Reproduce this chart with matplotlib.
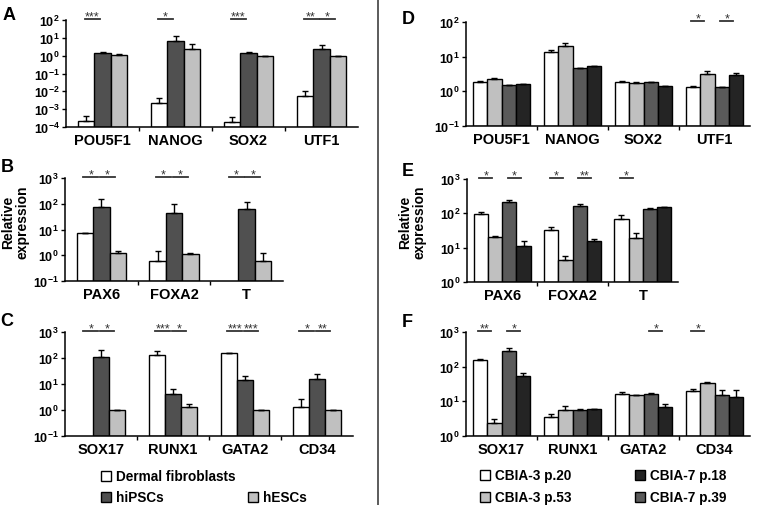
import numpy as np
import matplotlib
matplotlib.use('Agg')
import matplotlib.pyplot as plt
from matplotlib.patches import Rectangle
from matplotlib.ticker import NullLocator, FixedLocator

plt.rcParams['font.family'] = ['Liberation Sans', 'DejaVu Sans']
plt.rcParams['font.weight'] = 'bold'
plt.rcParams['mathtext.fontset'] = 'custom'
plt.rcParams['mathtext.rm'] = 'Liberation Sans'
plt.rcParams['mathtext.bf'] = 'Liberation Sans:bold'

# ---- data: left column (fibroblasts / hiPSCs / hESCs) ----
genes_a = ['POU5F1', 'NANOG', 'SOX2', 'UTF1']
fib_a = [2.2e-4, 2.2e-3, 1.9e-4, 5.5e-3]
fib_a_err = [1.9e-4, 2.1e-3, 1.7e-4, 5.5e-3]
ips_a = [1.5, 7.0, 1.5, 2.5]
ips_a_err = [0.1, 5.6, 0.1, 1.5]
es_a = [1.1, 2.3, 1.0, 1.0]
es_a_err = [0.2, 2.0, 0.0, 0.0]

genes_b = ['PAX6', 'FOXA2', 'T']
fib_b = [7.2, 0.62, np.nan]
fib_b_err = [0.2, 0.88, np.nan]
ips_b = [76, 45, 60]
ips_b_err = [71, 55, 55]
es_b = [1.2, 1.12, 0.6]
es_b_err = [0.25, 0.06, 0.66]

genes_c = ['SOX17', 'RUNX1', 'GATA2', 'CD34']
fib_c = [np.nan, 132, 150, 1.25]
fib_c_err = [np.nan, 46, 0, 1.35]
ips_c = [110, 4.1, 14, 15.5]
ips_c_err = [90, 2.2, 7, 9.5]
es_c = [1.0, 1.3, 1.0, 1.0]
es_c_err = [0, 0.47, 0, 0.02]

# ---- data: right column (CBIA lines) ----
p20_d = [1.86, 13.9, 1.86, 1.33]
p20_d_err = [0.14, 1.7, 0.09, 0.07]
p53_d = [2.27, 20.4, 1.78, 3.16]
p53_d_err = [0.23, 4.3, 0.07, 0.7]
p39_d = [1.49, 4.7, 1.82, 1.3]
p39_d_err = [0.05, 0.1, 0.03, 0.02]
p18_d = [1.59, 5.4, 1.39, 3.0]
p18_d_err = [0, 0.1, 0, 0.3]

p20_e = [95, 33.5, 69]
p20_e_err = [17, 5.5, 20]
p53_e = [21, 4.4, 18.5]
p53_e_err = [0.5, 1.4, 8.2]
p39_e = [213, 168, 134]
p39_e_err = [37, 22, 6]
p18_e = [11.5, 15.8, 148]
p18_e_err = [3.9, 1.8, 10]

p20_f = [152, 3.65, 16.2, 20.1]
p20_f_err = [14, 0.6, 2.3, 2.4]
p53_f = [2.35, 5.7, 15.5, 33.4]
p53_f_err = [0.75, 1.5, 0.2, 3.0]
p39_f = [275, 5.7, 16.2, 14.8]
p39_f_err = [73, 0.2, 1.1, 6.2]
p18_f = [55, 6.0, 7.0, 13.6]
p18_f_err = [12, 0, 1.2, 7.4]

# significance: (group, bar i, bar j, label)
sig_a = [(0, 0, 1, '***'), (1, 0, 1, '*'), (2, 0, 1, '***'), (3, 0, 1, '**'), (3, 1, 2, '*')]
sig_b = [(0, 0, 1, '*'), (0, 1, 2, '*'), (1, 0, 1, '*'), (1, 1, 2, '*'), (2, 0, 1, '*'), (2, 1, 2, '*')]
sig_c = [(0, 0, 1, '*'), (0, 1, 2, '*'), (1, 0, 1, '***'), (1, 1, 2, '*'),
         (2, 0, 1, '***'), (2, 1, 2, '***'), (3, 0, 1, '*'), (3, 1, 2, '**')]
sig_d = [(3, 0, 1, '*'), (3, 2, 3, '*')]
sig_e = [(0, 0, 1, '*'), (0, 2, 3, '*'), (1, 0, 1, '*'), (1, 2, 3, '**'), (2, 0, 1, '*')]
sig_f = [(0, 0, 1, '**'), (0, 2, 3, '*'), (2, 2, 3, '*'), (3, 0, 1, '*')]

col_left = ['#ffffff', '#505050', '#c0c0c0']
col_right = ['#ffffff', '#c0c0c0', '#5a5a5a', '#242424']

W, H = 759, 506
fig = plt.figure(figsize=(W / 100, H / 100), dpi=100)


def box(l, t, r, b):
    return [l / W, 1 - b / H, (r - l) / W, (b - t) / H]


def panel(rect, genes, series, errs, colors, width, ylo, yhi, sigs):
    ax = fig.add_axes(rect)
    n = len(genes)
    k = len(series)
    x = np.arange(n)
    for i in range(k):
        v = np.array(series[i], dtype=float)
        e = np.array(errs[i], dtype=float)
        xi = x + (i - (k - 1) / 2) * width
        ax.bar(xi, v - ylo, width, bottom=ylo, color=colors[i],
               edgecolor='black', linewidth=1.0, zorder=2)
        ax.errorbar(xi, v, yerr=[np.zeros(n), e], fmt='none', ecolor='black',
                    elinewidth=1.0, capsize=2.3, capthick=1.0, zorder=3)
    ax.set_yscale('log')
    ax.set_ylim(ylo, yhi)
    ax.set_xlim(-0.5, n - 0.5)
    dec = range(int(round(np.log10(ylo))), int(round(np.log10(yhi))) + 1)
    ax.yaxis.set_major_locator(FixedLocator([10.0 ** d for d in dec]))
    ax.yaxis.set_minor_locator(NullLocator())
    ax.set_yticklabels([r'$\mathbf{10^{%d}}$' % d for d in dec], fontsize=9)
    ax.set_xticks(x)
    ax.set_xticklabels(genes, fontsize=10.5, fontweight='bold')
    ax.xaxis.set_minor_locator(FixedLocator(np.arange(n - 1) + 0.5))
    ax.tick_params(axis='x', which='major', length=0, pad=4)
    ax.tick_params(axis='x', which='minor', length=3, width=1, direction='out')
    ax.tick_params(axis='y', length=3, width=1, direction='out', pad=1.5)
    for s in ['top', 'right']:
        ax.spines[s].set_visible(False)
    for s in ['left', 'bottom']:
        ax.spines[s].set_linewidth(1.1)
    tr = ax.get_xaxis_transform()
    for g, i, j, lab in sigs:
        x0 = g + (i - (k - 1) / 2) * width - 0.02
        x1 = g + (j - (k - 1) / 2) * width - 0.04
        ax.plot([x0, x1], [1.01, 1.01], color='#333333', lw=1.3,
                transform=tr, clip_on=False)
        ax.annotate(lab, ((x0 + x1) / 2, 1.01), xycoords=tr, xytext=(0, -0.6),
                    textcoords='offset points', ha='center', va='baseline',
                    fontsize=9, fontweight='normal', color='#333333',
                    annotation_clip=False)
    return ax


wl = 0.226
wr = 0.203
panel(box(66, 21, 358, 128), genes_a, [fib_a, ips_a, es_a],
      [fib_a_err, ips_a_err, es_a_err], col_left, wl, 1e-4, 1e2, sig_a)
panel(box(65, 179, 283, 282), genes_b, [fib_b, ips_b, es_b],
      [fib_b_err, ips_b_err, es_b_err], col_left, wl, 1e-1, 1e3, sig_b)
panel(box(65, 333, 353, 437), genes_c, [fib_c, ips_c, es_c],
      [fib_c_err, ips_c_err, es_c_err], col_left, wl, 1e-1, 1e3, sig_c)
panel(box(466, 23, 750, 127), genes_a, [p20_d, p53_d, p39_d, p18_d],
      [p20_d_err, p53_d_err, p39_d_err, p18_d_err], col_right, wr, 1e-1, 1e2, sig_d)
panel(box(467, 180, 678, 283), genes_b, [p20_e, p53_e, p39_e, p18_e],
      [p20_e_err, p53_e_err, p39_e_err, p18_e_err], col_right, wr, 1e0, 1e3, sig_e)
panel(box(466, 333, 750, 437), genes_c, [p20_f, p53_f, p39_f, p18_f],
      [p20_f_err, p53_f_err, p39_f_err, p18_f_err], col_right, wr, 1e0, 1e3, sig_f)

# panel letters
for lab, px, py in [('A', 9, 16), ('B', 7, 167), ('C', 7, 321),
                    ('D', 408, 19), ('E', 408, 172), ('F', 407, 323)]:
    fig.text(px / W, 1 - py / H, lab, fontsize=13, fontweight='bold',
             ha='center', va='center')

for px in [15, 412]:
    fig.text(px / W, 1 - 222 / H, 'Relative\nexpression', rotation=90,
             fontsize=10, fontweight='bold', ha='center', va='center',
             linespacing=1.0)

# divider
fig.add_artist(plt.Line2D([378 / W, 378 / W], [0, 1], color='#404040', lw=1.2))

# legends
leg_left = [('Dermal fibroblasts', col_left[0], 101, 477),
            ('hiPSCs', col_left[1], 101, 498),
            ('hESCs', col_left[2], 248, 498)]
leg_right = [('CBIA-3 p.20', col_right[0], 480, 476),
             ('CBIA-3 p.53', col_right[1], 480, 498),
             ('CBIA-7 p.18', col_right[3], 635, 476),
             ('CBIA-7 p.39', col_right[2], 635, 498)]
for lab, c, px, py in leg_left + leg_right:
    s = 10
    fig.add_artist(Rectangle((px / W, 1 - (py + s / 2) / H), s / W, s / H,
                             facecolor=c, edgecolor='black', lw=1.0,
                             transform=fig.transFigure))
    fig.text((px + s + 5) / W, 1 - py / H, lab, fontsize=9.8,
             fontweight='bold', ha='left', va='center')

fig.savefig('out.png', dpi=100)
